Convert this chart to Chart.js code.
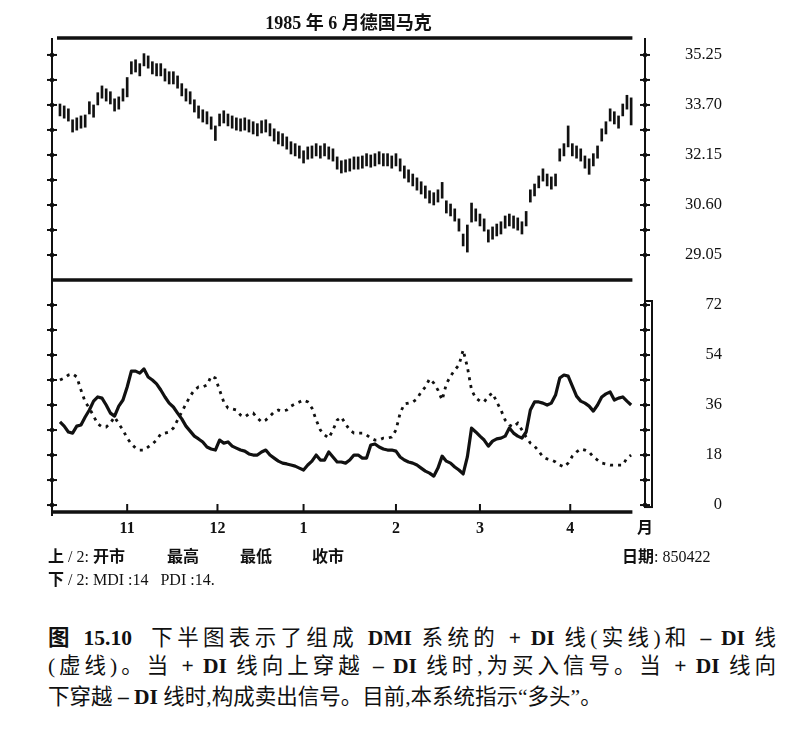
<!DOCTYPE html>
<html>
<head>
<meta charset="utf-8">
<script src="https://cdn.jsdelivr.net/npm/chart.js@4.4.1/dist/chart.umd.min.js"></script>
<style>
  body { margin: 0; background: #fff; width: 792px; height: 732px; position: relative; overflow: hidden;
         font-family: "Liberation Serif", "Noto Sans CJK SC", serif; color: #111; }
  #chart { position: absolute; left: 0; top: 0; }
  .t { position: absolute; white-space: nowrap; font-size: 16px; line-height: 20px; }
  .cj { font-family: "Noto Sans CJK SC", sans-serif; font-weight: bold; }
  .cap { position: absolute; left: 48px; width: 728px; font-size: 21.5px; line-height: 26px; text-align: justify; text-align-last: justify; }
  .cap.last { text-align-last: left; }
  .cap b { font-weight: bold; }
</style>
</head>
<body>
<canvas id="chart" width="792" height="545"></canvas>

<div class="t" style="left:48px;top:545px"><span class="cj">上</span> / 2: <span class="cj">开市</span></div>
<div class="t cj" style="left:167px;top:545px">最高</div>
<div class="t cj" style="left:240px;top:545px">最低</div>
<div class="t cj" style="left:312px;top:545px">收市</div>
<div class="t" style="left:622px;top:545px"><span class="cj">日期</span>: 850422</div>
<div class="t" style="left:48px;top:568px"><span class="cj">下</span> / 2: MDI :14&nbsp;&nbsp; PDI :14.</div>

<div class="cap" style="top:623px"><b class="cj">图</b> <b>15.10</b>&nbsp; 下半图表示了组成 <b>DMI</b> 系统的 <b>+ DI</b> 线(实线)和 <b>– DI</b> 线</div>
<div class="cap" style="top:653px">(虚线)。当 <b>+ DI</b> 线向上穿越 <b>– DI</b> 线时,为买入信号。当 <b>+ DI</b> 线向</div>
<div class="cap last" style="top:684px">下穿越 <b>– DI</b> 线时,构成卖出信号。目前,本系统指示“多头”。</div>

<script>
// month labels on the time axis (trading-day index of the first day of each month)
const monthLabels = ["11", "12", "1", "2", "3", "4"];
const monthPos = [16, 37.5, 58, 80, 100, 121.5];

// daily high / low, June 1985 Deutsche mark futures
const priceHigh = [
  33.73, 33.67, 33.58, 33.24, 33.30, 33.36, 33.39, 33.80, 33.70, 34.08,
  34.29, 34.20, 34.11, 33.89, 33.95, 34.20, 34.55, 35.04, 35.10, 34.98,
  35.29, 35.22, 35.04, 34.98, 34.98, 34.82, 34.73, 34.73, 34.60, 34.36,
  34.20, 34.11, 33.86, 33.67, 33.55, 33.49, 33.33, 33.05, 33.42, 33.52,
  33.42, 33.36, 33.30, 33.27, 33.30, 33.24, 33.18, 33.12, 33.21, 33.24,
  33.12, 32.96, 32.87, 32.81, 32.71, 32.56, 32.50, 32.43, 32.28, 32.40,
  32.43, 32.50, 32.43, 32.50, 32.40, 32.34, 32.09, 31.97, 32.00, 32.03,
  32.09, 32.09, 32.12, 32.19, 32.15, 32.19, 32.25, 32.19, 32.19, 32.12,
  32.19, 32.03, 31.81, 31.69, 31.56, 31.44, 31.32, 31.19, 31.04, 30.98,
  31.07, 31.30, 30.73, 30.63, 30.48, 30.17, 29.70, 29.98, 30.66, 30.48,
  30.32, 30.17, 29.83, 29.92, 30.01, 30.08, 30.26, 30.32, 30.26, 30.20,
  30.08, 30.40, 31.07, 31.25, 31.50, 31.72, 31.56, 31.47, 31.56, 32.34,
  32.50, 33.05, 32.50, 32.43, 32.34, 32.12, 32.03, 32.19, 32.43, 32.96,
  33.18, 33.58, 33.49, 33.36, 33.73, 34.00, 33.92
];
const priceLow = [
  33.36, 33.29, 33.20, 32.86, 32.92, 32.98, 33.01, 33.42, 33.32, 33.70,
  33.91, 33.82, 33.73, 33.51, 33.57, 33.82, 33.95, 34.66, 34.72, 34.60,
  34.91, 34.84, 34.66, 34.60, 34.60, 34.44, 34.35, 34.35, 34.22, 33.98,
  33.82, 33.73, 33.48, 33.29, 33.17, 33.11, 32.95, 32.60, 33.05, 33.14,
  33.05, 32.98, 32.92, 32.89, 32.92, 32.86, 32.80, 32.74, 32.83, 32.86,
  32.74, 32.58, 32.49, 32.43, 32.33, 32.18, 32.12, 32.05, 31.90, 32.02,
  32.05, 32.12, 32.05, 32.12, 32.02, 31.96, 31.71, 31.59, 31.62, 31.65,
  31.71, 31.71, 31.74, 31.81, 31.77, 31.81, 31.87, 31.81, 31.81, 31.74,
  31.81, 31.65, 31.43, 31.31, 31.19, 31.06, 30.94, 30.81, 30.66, 30.60,
  30.69, 30.81, 30.35, 30.26, 30.10, 29.79, 29.33, 29.14, 30.07, 30.10,
  29.95, 29.79, 29.45, 29.54, 29.64, 29.70, 29.88, 29.95, 29.88, 29.82,
  29.70, 29.95, 30.69, 30.88, 31.13, 31.34, 31.19, 31.09, 31.19, 31.96,
  32.12, 32.40, 32.12, 32.05, 31.96, 31.74, 31.55, 31.81, 32.05, 32.58,
  32.80, 33.20, 33.11, 32.98, 33.36, 33.57, 33.08
];

// +DI (solid) and -DI (dashed), 14 days
const plusDI = [
  29.9, 28.4, 26.3, 25.9, 28.4, 28.8, 31.7, 34.2, 37.4, 38.9,
  38.5, 36.0, 33.1, 32.0, 35.6, 37.8, 42.5, 48.2, 48.2, 47.5,
  49.0, 46.1, 45.0, 43.6, 41.4, 38.9, 36.7, 35.3, 33.1, 31.0,
  28.4, 26.6, 24.8, 23.8, 22.7, 20.9, 20.2, 19.8, 23.4, 22.3,
  22.7, 21.2, 20.5, 19.8, 19.4, 18.4, 18.0, 18.0, 19.1, 19.8,
  18.0, 16.9, 15.8, 15.1, 14.8, 14.4, 14.0, 13.3, 12.6, 14.4,
  15.8, 18.0, 16.2, 16.2, 19.1, 17.3, 15.5, 15.5, 15.1, 16.2,
  18.0, 18.0, 16.9, 16.9, 21.6, 22.0, 20.9, 20.2, 19.8, 19.8,
  19.4, 17.3, 16.2, 15.5, 15.1, 14.4, 13.3, 12.2, 11.5, 10.4,
  13.3, 17.6, 15.8, 15.1, 13.7, 12.6, 11.2, 17.3, 27.7, 26.3,
  24.8, 23.4, 21.2, 23.0, 23.8, 24.1, 24.8, 27.7, 25.9, 24.8,
  24.1, 26.3, 34.2, 37.1, 37.1, 36.7, 36.0, 36.7, 39.6, 45.7,
  46.8, 46.4, 42.8, 39.2, 37.4, 36.7, 35.6, 33.8, 36.0, 38.9,
  40.0, 40.7, 37.8, 38.5, 38.9, 37.4, 36.0
];
const minusDI = [
  45.0, 45.7, 46.8, 47.2, 46.1, 41.4, 37.1, 34.9, 32.0, 29.2,
  28.1, 28.1, 29.5, 31.7, 29.2, 27.0, 24.1, 22.0, 20.5, 19.8,
  19.8, 20.9, 22.0, 23.4, 25.6, 25.9, 26.3, 27.7, 30.6, 33.5,
  36.4, 39.2, 41.4, 42.5, 42.5, 43.2, 46.4, 45.7, 41.4, 37.1,
  34.9, 34.6, 34.2, 32.4, 31.7, 32.8, 33.1, 31.3, 29.9, 30.6,
  32.0, 33.5, 34.2, 33.8, 34.2, 35.6, 36.4, 37.1, 37.8, 37.1,
  34.9, 30.6, 27.0, 25.2, 24.1, 27.0, 30.6, 31.7, 29.2, 27.0,
  25.9, 25.9, 25.9, 25.2, 24.1, 23.4, 23.4, 24.1, 24.1, 24.5,
  27.0, 33.1, 36.4, 36.7, 37.1, 38.2, 40.7, 42.5, 45.4, 43.9,
  41.4, 37.8, 43.6, 46.4, 48.6, 50.4, 55.8, 49.7, 41.4, 38.5,
  37.4, 37.1, 39.2, 40.3, 37.1, 34.2, 30.6, 28.8, 28.1, 29.5,
  27.0, 24.5, 22.3, 21.2, 19.4, 17.3, 16.6, 16.2, 15.5, 14.4,
  13.7, 15.1, 17.6, 19.1, 20.2, 19.8, 19.1, 17.3, 16.2, 15.1,
  14.8, 14.4, 14.4, 14.4, 14.4, 16.9, 18.0
];

// axis ticks
const priceTicks = [28.275, 29.05, 29.825, 30.6, 31.375, 32.15, 32.925, 33.7, 34.475, 35.25];
const priceLabeled = [29.05, 30.6, 32.15, 33.7, 35.25];
const diTicks = [0, 9, 18, 27, 36, 45, 54, 63, 72];
const diLabeled = [0, 18, 36, 54, 72];

const INK = "#111";
const serif = '"Liberation Serif", "Noto Sans CJK SC", serif';

const bars = priceHigh.map((h, i) => ({ x: i, y: [priceLow[i], h] }));
const plusPts = plusDI.map((v, i) => ({ x: i, y: v }));
const minusPts = minusDI.map((v, i) => ({ x: i, y: v }));

// frame: rules, axis ticks, month marks
const frame = {
  id: "frame",
  afterDatasetsDraw(chart) {
    const { ctx, chartArea: a, scales } = chart;
    const { x, yP, yD } = scales;
    const end = x.getPixelForValue(136.3);
    const line = (x1, y1, x2, y2) => {
      ctx.beginPath(); ctx.moveTo(x1, y1); ctx.lineTo(x2, y2); ctx.stroke();
    };
    ctx.save();
    ctx.strokeStyle = INK;
    ctx.fillStyle = INK;

    ctx.lineWidth = 3.5;
    line(a.left + 5, a.top, end, a.top);
    line(a.left, yP.bottom, end, yP.bottom);
    line(a.left, a.bottom, end, a.bottom);

    ctx.lineWidth = 2;
    line(a.left, a.top, a.left, a.bottom + 4);
    line(a.right, a.top, a.right, a.bottom - 5);

    // double bar on the DI axis
    const top72 = yD.getPixelForValue(72), bot0 = yD.getPixelForValue(0);
    ctx.strokeRect(a.right, top72 - 4, 7, bot0 - top72 + 6);

    [yP, yD].forEach(s => {
      s.ticks.forEach(t => {
        const y = s.getPixelForValue(t.value);
        if (y < a.top + 2 || Math.abs(y - yP.bottom) < 2) return;
        [a.left, a.right].forEach(xx => {
          line(xx - 5, y, xx + 5, y);
          ctx.beginPath(); ctx.arc(xx, y, 2.3, 0, Math.PI * 2); ctx.fill();
        });
      });
    });

    ctx.lineWidth = 2;
    monthPos.forEach(v => {
      const px = x.getPixelForValue(v);
      line(px, a.bottom, px, a.bottom - 8);
    });
    ctx.restore();
  }
};

new Chart(document.getElementById("chart"), {
  data: {
    datasets: [
      {
        type: "bar",
        data: bars,
        xAxisID: "x",
        yAxisID: "yP",
        backgroundColor: INK,
        borderWidth: 0,
        barThickness: 2,
        grouped: false
      },
      {
        type: "line",
        data: plusPts,
        xAxisID: "x",
        yAxisID: "yD",
        borderColor: INK,
        borderWidth: 3.2,
        pointRadius: 0,
        tension: 0,
        borderJoinStyle: "round"
      },
      {
        type: "line",
        data: minusPts,
        xAxisID: "x",
        yAxisID: "yD",
        borderColor: INK,
        borderWidth: 2.8,
        borderDash: [3, 5],
        pointRadius: 0,
        tension: 0
      }
    ]
  },
  options: {
    responsive: false,
    animation: false,
    layout: { padding: { left: 52, right: 70, top: 0, bottom: 3 } },
    plugins: {
      legend: { display: false },
      tooltip: { enabled: false },
      title: {
        display: true,
        text: "1985 年 6 月德国马克",
        fullSize: false,
        color: INK,
        font: { family: serif, size: 18, weight: "bold", lineHeight: 1.2 },
        padding: { top: 14, bottom: 2.4 }
      }
    },
    scales: {
      x: {
        type: "linear",
        offset: false,
        min: -1.9,
        max: 139.3,
        grid: { display: false, drawTicks: false, offset: false },
        border: { display: false },
        afterBuildTicks: s => {
          s.ticks = monthPos.map(v => ({ value: v })).concat([{ value: 139.3 }]);
        },
        afterFit: s => { s.height = 30; },
        ticks: {
          autoSkip: false,
          maxRotation: 0,
          padding: 7,
          color: INK,
          font: { family: serif, size: 16, weight: "bold" },
          callback: (v, i) => (i < monthLabels.length ? monthLabels[i] : "月")
        }
      },
      yP: {
        type: "linear",
        position: "right",
        stack: "panels",
        stackWeight: 242,
        min: 28.275,
        max: 35.775,
        grid: { display: false, drawTicks: true, tickLength: 40 },
        border: { display: false },
        afterBuildTicks: s => { s.ticks = priceTicks.map(v => ({ value: v })); },
        afterFit: s => { s.width = 77; },
        ticks: {
          autoSkip: false,
          padding: 2,
          crossAlign: "far",
          color: INK,
          font: { family: serif, size: 16.5 },
          callback: v => (priceLabeled.some(p => Math.abs(p - v) < 1e-6) ? v.toFixed(2) : "")
        }
      },
      yD: {
        type: "linear",
        position: "right",
        stack: "panels",
        stackWeight: 232,
        min: -2.5,
        max: 81,
        grid: { display: false, drawTicks: true, tickLength: 58 },
        border: { display: false },
        afterBuildTicks: s => { s.ticks = diTicks.map(v => ({ value: v })); },
        afterFit: s => { s.width = 77; },
        ticks: {
          autoSkip: false,
          padding: 2,
          crossAlign: "far",
          color: INK,
          font: { family: serif, size: 16.5 },
          callback: v => (diLabeled.includes(v) ? String(v) : "")
        }
      }
    }
  },
  plugins: [frame]
});
</script>
</body>
</html>
